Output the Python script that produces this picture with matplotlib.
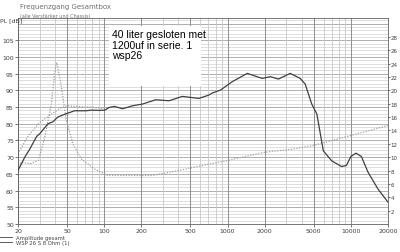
import numpy as np
import matplotlib
matplotlib.use('Agg')
import matplotlib.pyplot as plt
from matplotlib.patches import Rectangle

# Amplitude gesamt (dB)
f_tot = [20, 22.7, 25, 28.3, 30, 35, 38.4, 42, 49, 57.6, 71.5, 78.6, 92, 101, 110, 121,
         141, 170, 204, 262, 336, 430, 585, 706, 750, 877, 1090, 1444, 1908, 2230, 2590,
         3220, 3880, 4260, 4820, 5300, 5980, 6990, 8400, 9200, 10000, 11000, 12170,
         13770, 16560, 20000]
db_tot = [66, 70, 72.5, 76.2, 77, 80, 80.6, 82, 83, 83.9, 83.9, 84.1, 84, 84.1, 84.9, 85.2,
          84.5, 85.4, 85.9, 87.2, 86.9, 88.2, 87.6, 88.6, 89.2, 90.1, 92.6, 95.1, 93.6, 94.1,
          93.4, 95.1, 93.6, 91.9, 85.9, 82.9, 71.9, 68.9, 67.2, 67.5, 70.2, 71.2, 70.2,
          65.5, 60.5, 56.5]

# WSP 26 S 8 Ohm (1) - Pegel tief
f_wsp = [20, 24.2, 30, 37.3, 45, 50.6, 65, 80, 95, 110]
db_wsp = [71, 76.4, 80.4, 82.9, 84.9, 85.4, 85.1, 85, 84.6, 84.9]

# Impedanz (rechte Achse, in dB-Skala gezeichnet)
f_imp = [20, 21.4, 25, 29.2, 33, 37.3, 39.6, 41, 42, 45, 49.3, 55.7, 65, 83, 107, 150,
         246, 400, 585, 1000, 2010, 3220, 4820, 10000, 20000]
db_imp = [67.5, 68.5, 68, 69, 76, 86, 95, 98.4, 97, 91, 81, 74, 69.5, 66.5, 64.5, 64.5,
          64.5, 66, 67.3, 69, 71.5, 72.3, 73.4, 76.5, 79.5]

xticks = [20, 50, 100, 200, 500, 1000, 2000, 5000, 10000, 20000]

fig = plt.figure(figsize=(4, 2.53), dpi=100)
ax = fig.add_axes([0.045, 0.111, 0.925, 0.814])
ax.set_xscale('log')
ax.set_xlim(20, 20000)
ax.set_ylim(50, 111.7)

# Gitter
for y in np.arange(51, 112, 1):
    ax.axhline(y, color='#d8d8d8', lw=0.6, zorder=0)
for y in np.arange(50, 111, 5):
    ax.axhline(y, color='#a8a8a8', lw=0.6, zorder=0)
minors = [m * d for d in [10, 100, 1000] for m in range(2, 10)] + [10000]
for x in minors:
    if 20 <= x <= 20000:
        ax.axvline(x, color='#c8c8c8', lw=0.6, zorder=0)
for x in xticks:
    ax.axvline(x, color='#909090', lw=0.7, zorder=0)

ax.plot(f_imp, db_imp, color='#a0a0a0', lw=0.9, ls=(0, (1, 1.2)), zorder=2)
ax.plot(f_wsp, db_wsp, color='#a0a0a0', lw=0.9, ls=(0, (1, 1.2)), zorder=2)
ax.plot(f_tot, db_tot, color='#404040', lw=0.9, zorder=3)

ax.set_xticks(xticks)
ax.set_xticklabels([str(x) for x in xticks])
ax.xaxis.set_minor_locator(matplotlib.ticker.NullLocator())
ax.set_yticks(np.arange(50, 106, 5))
ax.tick_params(labelsize=4.5, colors='#404040', length=2, width=0.5, pad=1)
for s in ax.spines.values():
    s.set_color('#606060')
    s.set_linewidth(0.6)

ax2 = ax.twinx()
ax2.set_ylim(0, 30.85)
ax2.set_yticks(np.arange(2, 29, 2))
ax2.tick_params(labelsize=4, colors='#404040', length=1.5, width=0.5, pad=0.5)
for s in ax2.spines.values():
    s.set_visible(False)

# Textfeld
ax.add_patch(Rectangle((0.245, 0.67), 0.25, 0.29, transform=ax.transAxes,
                       facecolor='white', edgecolor='none', zorder=4))
ax.text(0.255, 0.945, '40 liter gesloten met\n1200uf in serie. 1\nwsp26',
        transform=ax.transAxes, fontsize=7.5, family='Liberation Sans',
        va='top', ha='left', linespacing=1.05, zorder=5)

fig.text(0.05, 0.965, 'Frequenzgang Gesamtbox', fontsize=5, color='#707070')
fig.text(0.05, 0.93, '(alle Verstärker und Chassis)', fontsize=3.5, color='#707070')
fig.text(0.0, 0.918, 'PL [dB]', fontsize=4.5, color='#404040', va='center')

# Legende
fig.add_artist(plt.Line2D([0.0, 0.03], [0.058, 0.058], color='#404040', lw=0.6))
fig.add_artist(plt.Line2D([0.0, 0.03], [0.038, 0.038], color='#404040', lw=0.6))
fig.text(0.04, 0.058, 'Amplitude gesamt', fontsize=3.8, color='#404040', va='center')
fig.text(0.04, 0.038, 'WSP 26 S 8 Ohm (1)', fontsize=3.8, color='#404040', va='center')

fig.savefig('out.png', dpi=100)
